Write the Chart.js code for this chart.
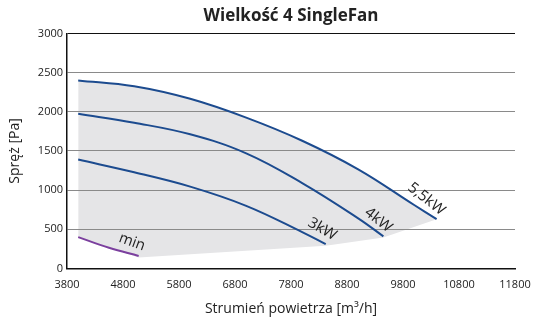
<!DOCTYPE html>
<html>
<head>
<meta charset="utf-8">
<script src="https://cdn.jsdelivr.net/npm/chart.js@4/dist/chart.umd.min.js"></script>
<style>
html,body{margin:0;padding:0;background:#fff;}
#wrap{width:544px;height:322px;}
</style>
</head>
<body>
<div id="wrap"><canvas id="c" width="544" height="322"></canvas></div>
<script>
// Fan curves: airflow [m3/h] and pressure [Pa]
const curve55kW_x = [4000, 5000, 6000, 7000, 8000, 9000, 10000, 10400];
const curve55kW_y = [2400, 2325, 2165, 1925, 1630, 1265, 810, 630];
const curve4kW_x  = [4000, 5000, 6000, 7000, 8000, 9000, 9450];
const curve4kW_y  = [1975, 1860, 1712, 1470, 1090, 640, 410];
const curve3kW_x  = [4000, 5000, 6000, 7000, 8000, 8420];
const curve3kW_y  = [1390, 1228, 1045, 800, 465, 310];
const curveMin_x  = [4000, 4550, 5080];
const curveMin_y  = [400, 265, 160];
// lower boundary of the working range (grey area)
const bound_x = [4000, 4550, 5080, 8420, 9450, 10400];
const bound_y = [400, 265, 140, 290, 395, 630];
// curve labels
const labelText = ['5,5kW', '4kW', '3kW', 'min'];
const labelX = [10220, 9360, 8360, 4960];
const labelY = [885, 618, 503, 338];
const labelAngle = [38, 38, 30, 20];
// axis ticks
const xTicks = [3800, 4800, 5800, 6800, 7800, 8800, 9800, 10800, 11800];
const yTicks = [0, 500, 1000, 1500, 2000, 2500, 3000];

const pts = (xs, ys) => xs.map((x, i) => ({x: x, y: ys[i]}));
const BLUE = '#1c4b8f';
const PURPLE = '#7b3f9e';

const labelPlugin = {
  id: 'curveLabels',
  afterDatasetsDraw(chart) {
    const ctx = chart.ctx, xs = chart.scales.x, ys = chart.scales.y;
    ctx.save();
    ctx.font = '15px "Open Sans", sans-serif';
    ctx.fillStyle = '#222';
    ctx.textAlign = 'center';
    ctx.textBaseline = 'middle';
    labelText.forEach((t, i) => {
      ctx.save();
      ctx.translate(xs.getPixelForValue(labelX[i]), ys.getPixelForValue(labelY[i]));
      ctx.rotate(labelAngle[i] * Math.PI / 180);
      ctx.fillText(t, 0, 0);
      ctx.restore();
    });
    ctx.restore();
  }
};

const lineDs = (label, data, color, extra) => Object.assign({
  label: label, data: data, borderColor: color, borderWidth: 2,
  pointRadius: 0, showLine: true, tension: 0.4, fill: false
}, extra || {});

new Chart(document.getElementById('c'), {
  type: 'scatter',
  data: {
    datasets: [
      lineDs('5,5kW', pts(curve55kW_x, curve55kW_y), BLUE, {fill: {target: 4}, backgroundColor: '#e5e5e7'}),
      lineDs('4kW', pts(curve4kW_x, curve4kW_y), BLUE),
      lineDs('3kW', pts(curve3kW_x, curve3kW_y), BLUE),
      lineDs('min', pts(curveMin_x, curveMin_y), PURPLE),
      lineDs('bound', pts(bound_x, bound_y), 'rgba(0,0,0,0)', {borderWidth: 0, tension: 0})
    ]
  },
  options: {
    responsive: false,
    animation: false,
    layout: {padding: {left: 0, right: 29, top: 0, bottom: 0}},
    plugins: {
      legend: {display: false},
      tooltip: {enabled: false},
      filler: {drawTime: 'beforeDraw'},
      title: {
        display: true, text: 'Wielkość 4 SingleFan', fullSize: false,
        color: '#222', font: {family: '"Open Sans", sans-serif', size: 17, weight: 'bold'},
        padding: {top: 6, bottom: 7}
      }
    },
    scales: {
      x: {
        type: 'linear', min: 3800, max: 11800,
        afterBuildTicks: s => { s.ticks = xTicks.map(v => ({value: v})); },
        afterFit: s => { s.height = 53.5; },
        grid: {display: false, drawTicks: false},
        border: {display: true, color: '#111', width: 1.5},
        ticks: {color: '#222', padding: 10, maxRotation: 0, autoSkip: false,
          callback: v => String(v),
          font: {family: '"Open Sans", sans-serif', size: 11}},
        title: {display: true, text: 'Strumień powietrza [m³/h]', color: '#222',
          font: {family: '"Open Sans", sans-serif', size: 14}, padding: {top: 0, bottom: 5}}
      },
      y: {
        type: 'linear', min: 0, max: 3000,
        afterBuildTicks: s => { s.ticks = yTicks.map(v => ({value: v})); },
        afterFit: s => { s.width = 67; },
        grid: {drawTicks: false, lineWidth: 1,
          color: c => (c.tick && (c.tick.value === 3000)) ? '#111' : (c.tick && c.tick.value === 0 ? 'rgba(0,0,0,0)' : '#8a8a8a')},
        border: {display: true, color: '#111', width: 1.5},
        ticks: {color: '#222', padding: 4, callback: v => String(v),
          font: {family: '"Open Sans", sans-serif', size: 11}},
        title: {display: true, text: 'Spręż [Pa]', color: '#222',
          font: {family: '"Open Sans", sans-serif', size: 14}, padding: {top: 7, bottom: 0}}
      }
    }
  },
  plugins: [labelPlugin]
});
</script>
</body>
</html>
